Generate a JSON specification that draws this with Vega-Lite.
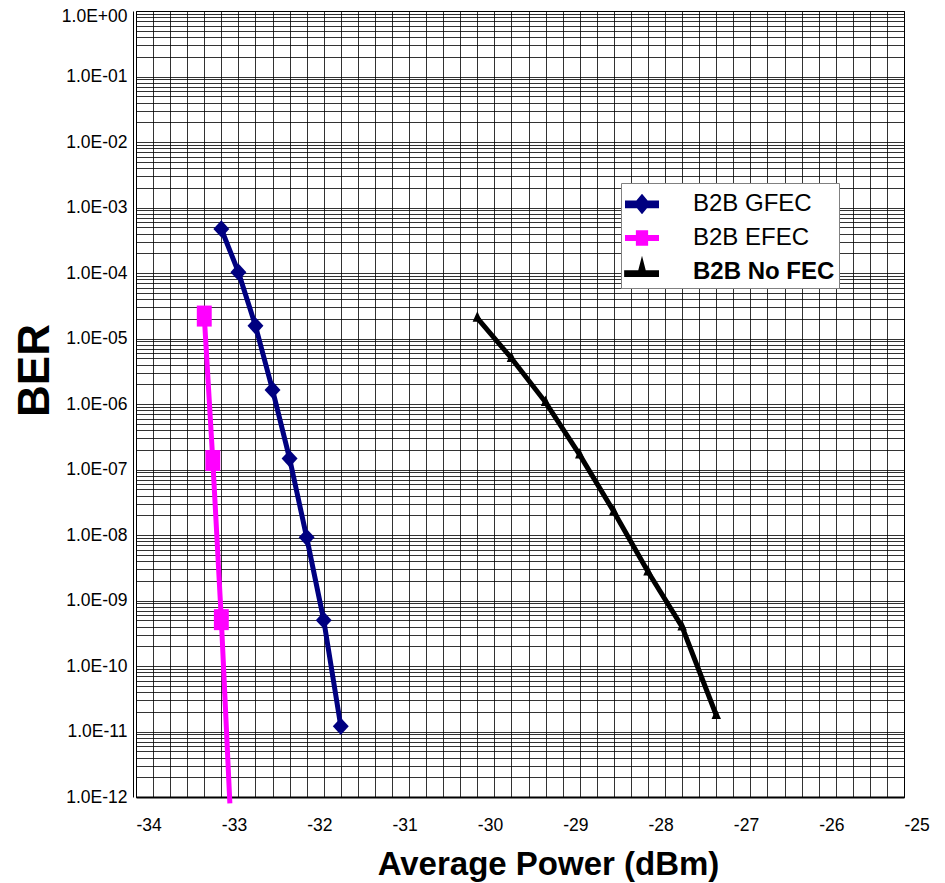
{
  "$schema": "https://vega.github.io/schema/vega-lite/v6.json",
  "width": 768,
  "height": 786,
  "autosize": {"type": "none"},
  "padding": {"left": 136, "top": 11, "right": 41, "bottom": 86},
  "background": "white",
  "config": {
    "view": {"stroke": "#000", "strokeWidth": 1}
  },
  "data": {
    "values": [
      {"series": "B2B GFEC", "power": -33.0, "ber": 4.7e-4},
      {"series": "B2B GFEC", "power": -32.8, "ber": 1.03e-4},
      {"series": "B2B GFEC", "power": -32.6, "ber": 1.56e-5},
      {"series": "B2B GFEC", "power": -32.4, "ber": 1.64e-6},
      {"series": "B2B GFEC", "power": -32.2, "ber": 1.47e-7},
      {"series": "B2B GFEC", "power": -32.0, "ber": 9.2e-9},
      {"series": "B2B GFEC", "power": -31.8, "ber": 5.0e-10},
      {"series": "B2B GFEC", "power": -31.6, "ber": 1.2e-11},
      {"series": "B2B EFEC", "power": -33.2, "ber": 2.2e-5},
      {"series": "B2B EFEC", "power": -33.1, "ber": 1.37e-7},
      {"series": "B2B EFEC", "power": -33.0, "ber": 5.1e-10},
      {"series": "B2B EFEC", "power": -32.9, "ber": 8e-13},
      {"series": "B2B No FEC", "power": -30.0, "ber": 2.05e-5},
      {"series": "B2B No FEC", "power": -29.6, "ber": 5.0e-6},
      {"series": "B2B No FEC", "power": -29.2, "ber": 1.06e-6},
      {"series": "B2B No FEC", "power": -28.8, "ber": 1.67e-7},
      {"series": "B2B No FEC", "power": -28.4, "ber": 2.27e-8},
      {"series": "B2B No FEC", "power": -28.0, "ber": 2.74e-9},
      {"series": "B2B No FEC", "power": -27.6, "ber": 3.96e-10},
      {"series": "B2B No FEC", "power": -27.2, "ber": 1.77e-11}
    ]
  },
  "encoding": {
    "x": {
      "field": "power",
      "type": "quantitative",
      "scale": {"domain": [-34, -25], "nice": false, "zero": false},
      "axis": {
        "values": [-34,-33.8,-33.6,-33.4,-33.2,-33,-32.8,-32.6,-32.4,-32.2,-32,-31.8,-31.6,-31.4,-31.2,-31,-30.8,-30.6,-30.4,-30.2,-30,-29.8,-29.6,-29.4,-29.2,-29,-28.8,-28.6,-28.4,-28.2,-28,-27.8,-27.6,-27.4,-27.2,-27,-26.8,-26.6,-26.4,-26.2,-26,-25.8,-25.6,-25.4,-25.2,-25],
        "labelExpr": "abs(datum.value - round(datum.value)) < 0.001 ? '' + round(datum.value) : ''",
        "labelOverlap": false,
        "labelFlush": false,
        "ticks": false,
        "grid": true,
        "gridColor": "#000",
        "gridOpacity": 0.8,
        "gridWidth": 1,
        "domain": true,
        "domainColor": "#000",
        "domainWidth": 2,
        "labelFont": "Liberation Sans",
        "labelFontSize": 17.5,
        "labelColor": "#000",
        "labelAlign": "left",
        "labelPadding": 19,
        "title": "Average Power (dBm)",
        "titleFont": "Liberation Sans",
        "titleFontSize": 33,
        "titleFontWeight": "bold",
        "titleColor": "#000",
        "titleX": 412,
        "titleY": 77,
        "titleAlign": "center",
        "titleBaseline": "alphabetic"
      }
    },
    "y": {
      "field": "ber",
      "type": "quantitative",
      "scale": {"type": "log", "domain": [1e-12, 1], "nice": false},
      "axis": {
        "values": [1e-12,2e-12,3e-12,4e-12,5e-12,6e-12,7e-12,8e-12,9e-12,1e-11,2e-11,3e-11,4e-11,5e-11,6e-11,7e-11,8e-11,9e-11,1e-10,2e-10,3e-10,4e-10,5e-10,6e-10,7e-10,8e-10,9e-10,1e-9,2e-9,3e-9,4e-9,5e-9,6e-9,7e-9,8e-9,9e-9,1e-8,2e-8,3e-8,4e-8,5e-8,6e-8,7e-8,8e-8,9e-8,1e-7,2e-7,3e-7,4e-7,5e-7,6e-7,7e-7,8e-7,9e-7,1e-6,2e-6,3e-6,4e-6,5e-6,6e-6,7e-6,8e-6,9e-6,1e-5,2e-5,3e-5,4e-5,5e-5,6e-5,7e-5,8e-5,9e-5,1e-4,2e-4,3e-4,4e-4,5e-4,6e-4,7e-4,8e-4,9e-4,0.001,0.002,0.003,0.004,0.005,0.006,0.007,0.008,0.009,0.01,0.02,0.03,0.04,0.05,0.06,0.07,0.08,0.09,0.1,0.2,0.3,0.4,0.5,0.6,0.7,0.8,0.9,1],
        "labelExpr": "abs(log(datum.value)/LN10 - round(log(datum.value)/LN10)) < 0.001 ? '1.0E' + (round(log(datum.value)/LN10) >= 0 ? '+' : '-') + (abs(round(log(datum.value)/LN10)) < 10 ? '0' : '') + abs(round(log(datum.value)/LN10)) : ''",
        "labelOverlap": false,
        "labelFlush": false,
        "labelOffset": {"condition": {"test": "datum.value >= 0.99", "value": 5}, "value": 0},
        "ticks": false,
        "grid": true,
        "gridColor": "#000",
        "gridOpacity": 0.8,
        "gridWidth": 1,
        "domain": true,
        "domainColor": "#000",
        "domainWidth": 1,
        "offset": 3,
        "labelFont": "Liberation Sans",
        "labelFontSize": 17.5,
        "labelColor": "#000",
        "labelAlign": "right",
        "labelBaseline": "middle",
        "labelPadding": 6,
        "title": "BER",
        "titleFont": "Liberation Sans",
        "titleFontSize": 44,
        "titleFontWeight": "bold",
        "titleColor": "#000",
        "titleAngle": -90,
        "titleX": -98,
        "titleY": 359,
        "titleAlign": "center",
        "titleBaseline": "middle"
      }
    }
  },
  "layer": [
    {
      "mark": {"type": "line", "strokeWidth": 5, "clip": false},
      "encoding": {
        "stroke": {
          "field": "series",
          "type": "nominal",
          "scale": {"domain": ["B2B No FEC", "B2B GFEC", "B2B EFEC"], "range": ["#000000", "#000080", "#FF00FF"]},
          "legend": null
        }
      }
    },
    {
      "transform": [{"filter": "datum.ber >= 1e-12"}],
      "mark": {"type": "point", "filled": true, "opacity": 1, "size": 441, "strokeWidth": 0},
      "encoding": {
        "color": {
          "field": "series",
          "type": "nominal",
          "scale": {"domain": ["B2B GFEC", "B2B EFEC", "B2B No FEC"], "range": ["#000080", "#FF00FF", "#000000"]},
          "legend": {
            "orient": "none",
            "legendX": 485,
            "legendY": 172,
            "title": null,
            "fillColor": "white",
            "strokeColor": "#808080",
            "padding": 4,
            "rowPadding": 5,
            "symbolSize": 1156,
            "symbolStrokeWidth": 0,
            "labelFont": "Liberation Sans",
            "labelFontSize": 24,
            "labelColor": "#000",
            "labelOffset": 34,
            "labelLimit": 400,
            "encoding": {
              "symbols": {
                "shape": {
                  "condition": [
                    {"test": "datum.value === 'B2B GFEC'", "value": "M-1,-0.2H1V0.25H-1Z M-0.5,0L0,-0.6L0.5,0L0,0.6Z"},
                    {"test": "datum.value === 'B2B EFEC'", "value": "M-1,-0.18H1V0.18H-1Z M-0.36,-0.45H0.36V0.45H-0.36Z"}
                  ],
                  "value": "M-1.05,-0.1H1V0.3H-1.05Z M-0.22,-0.1L0,-0.95L0.22,-0.1Z"
                }
              },
              "labels": {
                "fontWeight": {"condition": {"test": "datum.value === 'B2B No FEC'", "value": "bold"}, "value": "normal"}
              }
            }
          }
        },
        "shape": {
          "field": "series",
          "type": "nominal",
          "scale": {
            "domain": ["B2B EFEC", "B2B GFEC", "B2B No FEC"],
            "range": ["M-0.71,-1H0.71V1H-0.71Z", "M-0.76,0L0,-0.82L0.76,0L0,0.82Z", "M0,-0.65L0.45,0.35L-0.45,0.35Z"]
          },
          "legend": null
        }
      }
    }
  ]
}
